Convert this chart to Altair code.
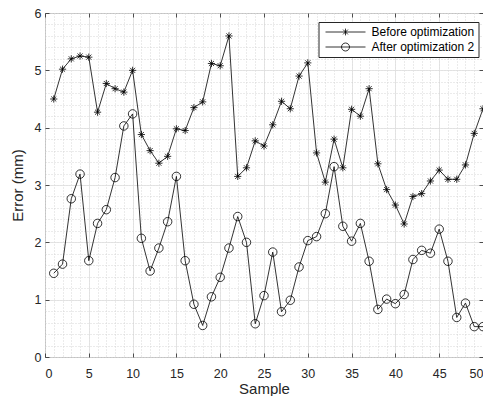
import altair as alt
import pandas as pd

samples = list(range(1, 51))
before = [4.50, 5.02, 5.20, 5.25, 5.23, 4.27, 4.77, 4.68, 4.62, 5.00,
          3.88, 3.60, 3.38, 3.50, 3.98, 3.95, 4.35, 4.45, 5.12, 5.08,
          5.60, 3.15, 3.30, 3.77, 3.68, 4.05, 4.46, 4.33, 4.90, 5.13,
          3.56, 3.05, 3.80, 3.30, 4.32, 4.20, 4.68, 3.37, 2.92, 2.65,
          2.32, 2.80, 2.85, 3.07, 3.26, 3.10, 3.10, 3.35, 3.90, 4.33]
after = [1.46, 1.62, 2.76, 3.19, 1.68, 2.33, 2.57, 3.13, 4.03, 4.24,
         2.07, 1.50, 1.90, 2.36, 3.15, 1.68, 0.92, 0.55, 1.05, 1.39,
         1.90, 2.45, 2.00, 0.58, 1.07, 1.83, 0.79, 0.99, 1.57, 2.03,
         2.10, 2.50, 3.32, 2.28, 2.02, 2.33, 1.67, 0.83, 1.01, 0.93,
         1.09, 1.70, 1.86, 1.81, 2.23, 1.67, 0.69, 0.94, 0.53, 0.53]
series_names = ["Before optimization", "After optimization 2"]

x_minor = list(range(0, 51))
x_major = list(range(0, 51, 5))
y_minor = [round(i * 0.2, 1) for i in range(31)]
y_major = list(range(0, 7))

df = pd.DataFrame({
    "sample": samples * 2,
    "error": before + after,
    "series": [series_names[0]] * len(before) + [series_names[1]] * len(after),
})

FONT = "Liberation Sans"
TXT = "#262626"
STAR = "M-0.85,0L0.85,0M0,-0.85L0,0.85M-0.6,-0.6L0.6,0.6M-0.6,0.6L0.6,-0.6"
STAR_L = "M-5,0L5,0M0,-0.85L0,0.85M-0.6,-0.6L0.6,0.6M-0.6,0.6L0.6,-0.6"
CIRC_L = "M-5,0L5,0M1,0A1,1,0,1,1,-1,0A1,1,0,1,1,1,0"

xs = alt.Scale(domain=[0, 50], nice=False, zero=False)
ys = alt.Scale(domain=[0, 6], nice=False, zero=False)


def grid_axis(orient, values, color, dash):
    return alt.Axis(orient=orient, values=values, grid=True, gridColor=color,
                    gridDash=dash, gridWidth=0.8, labels=False, ticks=False,
                    tickSize=0, domain=False, title=None)


def tick_axis(orient, values):
    return alt.Axis(orient=orient, values=values, grid=False, labels=False,
                    ticks=True, tickSize=4, tickColor=TXT, tickWidth=0.8,
                    domain=False, offset=-4, title=None)


base = alt.Chart(df)

lines = base.mark_line(color="black", strokeWidth=0.8).encode(
    x=alt.X("sample:Q", scale=xs, axis=grid_axis("bottom", x_minor, "#cdcdcd", [1, 2])),
    y=alt.Y("error:Q", scale=ys, axis=grid_axis("left", y_minor, "#cdcdcd", [1, 2])),
    detail="series:N",
)

points = base.mark_point(color="black", filled=False, opacity=1, strokeWidth=0.8, size=72).encode(
    x=alt.X("sample:Q", scale=xs, axis=alt.Axis(
        orient="bottom", values=x_major, grid=True, gridColor="#dedede", gridWidth=0.8,
        labels=True, labelFont=FONT, labelFontSize=12.5, labelColor=TXT, labelPadding=10,
        ticks=False, tickSize=0, domain=False, title="Sample", titleFont=FONT,
        titleFontSize=15, titleFontWeight="normal", titleColor=TXT, titlePadding=2)),
    y=alt.Y("error:Q", scale=ys, axis=alt.Axis(
        orient="left", values=y_major, grid=True, gridColor="#dedede", gridWidth=0.8,
        labels=True, labelFont=FONT, labelFontSize=12.5, labelColor=TXT, labelPadding=4,
        ticks=False, tickSize=0, domain=False, title="Error (mm)", titleFont=FONT,
        titleFontSize=15, titleFontWeight="normal", titleColor=TXT, titlePadding=8.5)),
    shape=alt.when(alt.datum.series == series_names[0]).then(alt.value(STAR)).otherwise(alt.value("circle")),
)

legend_layer = base.transform_filter("false").mark_point(
    color="black", filled=False, opacity=1, strokeWidth=0.8).encode(
    x=alt.X("sample:Q", scale=xs, axis=tick_axis("bottom", x_major)),
    y=alt.Y("error:Q", scale=ys, axis=tick_axis("left", y_major)),
    shape=alt.Shape("series:N", scale=alt.Scale(domain=series_names, range=[STAR_L, CIRC_L]),
                    legend=alt.Legend(
                        orient="none", legendX=273.5, legendY=9, title=None, labelFont=FONT,
                        labelFontSize=12, labelColor="black", strokeColor=TXT,
                        fillColor="white", padding=4, rowPadding=3, symbolSize=64,
                        symbolOffset=17, labelOffset=20, symbolStrokeWidth=0.8,
                        symbolStrokeColor="black", symbolFillColor="transparent",
                        symbolOpacity=1)),
)

ticks_tr = base.transform_filter("false").mark_point(opacity=1).encode(
    x=alt.X("sample:Q", scale=xs, axis=tick_axis("top", x_major)),
    y=alt.Y("error:Q", scale=ys, axis=tick_axis("right", y_major)),
)

chart = alt.layer(lines, points, legend_layer, ticks_tr).resolve_axis(
    x="independent", y="independent"
).properties(
    width=438, height=344,
    autosize=alt.AutoSizeParams(type="none"),
    padding={"left": 37, "top": 5, "right": 0, "bottom": 39},
    background="white",
).configure_view(stroke="#555555", strokeWidth=1)

chart.save("out.html", embed_options={"renderer": "svg", "actions": False})
